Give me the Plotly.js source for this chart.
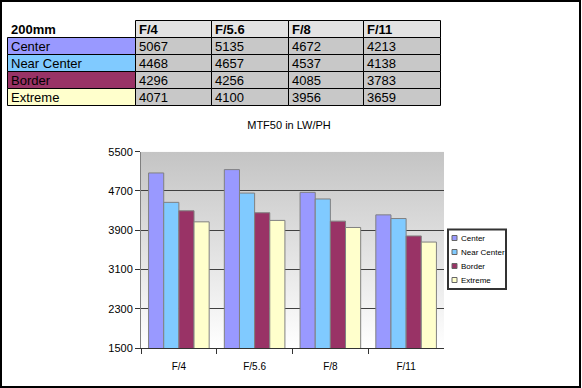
<!DOCTYPE html>
<html><head><meta charset="utf-8">
<script src="https://cdn.plot.ly/plotly-3.0.1.min.js"></script>
<style>
html,body{margin:0;padding:0;background:#fff;}
#wrap{position:relative;width:582px;height:388px;}
#chart{position:absolute;left:0;top:0;width:582px;height:388px;}
#frame{position:absolute;left:0;top:0;width:581px;height:388px;box-sizing:border-box;border:2px solid #000;pointer-events:none;}
</style></head>
<body>
<div id="wrap"><div id="chart"></div><div id="frame"></div></div>
<script>
// ---- data ----
var tableCorner = "200mm";
var apertures = ["F/4", "F/5.6", "F/8", "F/11"];
var zones = ["Center", "Near Center", "Border", "Extreme"];
var centerVals = [5067, 5135, 4672, 4213];
var nearCenterVals = [4468, 4657, 4537, 4138];
var borderVals = [4296, 4256, 4085, 3783];
var extremeVals = [4071, 4100, 3956, 3659];
var yTicks = [1500, 2300, 3100, 3900, 4700, 5500];
var chartTitle = "MTF50 in LW/PH";

// ---- styles / layout ----
var zoneColors = ["#9999ff", "#80caff", "#993366", "#ffffcc"];
var FONT = "Liberation Sans, Arial, sans-serif";
var W = 582, H = 388;
var colEdges = [7.5, 135.5, 211.5, 288.5, 363.5, 440.5];   // table column edges (px)
var rowTop = 20.5, rowH = 17;                               // table rows (px)

var series = [centerVals, nearCenterVals, borderVals, extremeVals];
function px(x) { return x / W; }
function py(y) { return 1 - y / H; }

var traces = series.map(function (vals, i) {
  return {
    type: "bar", name: zones[i], x: apertures, y: vals,
    marker: {color: zoneColors[i], line: {color: "#808080", width: 1}},
    showlegend: false
  };
});

// ---- table (shapes + annotations built from the data arrays) ----
var shapes = [], annotations = [];
var headerRow = [tableCorner].concat(apertures);
var nRows = zones.length + 1;
for (var r = 0; r < nRows; r++) {
  for (var c = 0; c < headerRow.length; c++) {
    var text, fill, lineW = 1, bold = false;
    if (r === 0) {
      text = headerRow[c]; bold = true;
      fill = c === 0 ? "#ffffff" : "#e3e3e3";
      if (c === 0) lineW = 0;
    } else {
      text = c === 0 ? zones[r - 1] : String(series[r - 1][c - 1]);
      fill = c === 0 ? zoneColors[r - 1] : "#c8c8c8";
    }
    var y0 = rowTop + r * rowH, y1 = y0 + rowH;
    shapes.push({
      type: "rect", xref: "paper", yref: "paper", layer: "above",
      x0: px(colEdges[c]), x1: px(colEdges[c + 1]), y0: py(y0), y1: py(y1),
      fillcolor: fill, line: {color: "#000", width: lineW}
    });
    annotations.push({
      xref: "paper", yref: "paper", showarrow: false,
      x: px(colEdges[c] + 1), xanchor: "left",
      y: py((y0 + y1) / 2 + 0.5), yanchor: "middle",
      text: bold ? "<b>" + text + "</b>" : text,
      font: {family: FONT, size: 13, color: "#000"}
    });
  }
}

// ---- legend (box, swatches, labels from zones) ----
var lg = {x0: 448, x1: 506, y0: 229.5, y1: 289, first: 238, step: 14};
shapes.push({
  type: "rect", xref: "paper", yref: "paper", layer: "above",
  x0: px(lg.x0), x1: px(lg.x1), y0: py(lg.y0), y1: py(lg.y1),
  fillcolor: "#ffffff", line: {color: "#333", width: 2}
});
zones.forEach(function (z, i) {
  var cy = lg.first + i * lg.step;
  shapes.push({
    type: "rect", xref: "paper", yref: "paper", layer: "above",
    x0: px(452), x1: px(457), y0: py(cy - 2.5), y1: py(cy + 2.5),
    fillcolor: zoneColors[i], line: {color: "#666", width: 1}
  });
  annotations.push({
    xref: "paper", yref: "paper", showarrow: false,
    x: px(459), xanchor: "left", y: py(cy), yanchor: "middle",
    text: z, font: {family: FONT, size: 8, color: "#000"}
  });
});

var xd = [141 / W, 444 / W];
var yd = [(H - 348) / H, (H - 151.7) / H];

var gradSvg = '<svg xmlns="http://www.w3.org/2000/svg" width="10" height="100" preserveAspectRatio="none">' +
  '<defs><linearGradient id="g" x1="0" y1="0" x2="0" y2="1">' +
  '<stop offset="0" stop-color="#c4c4c4"/><stop offset="1" stop-color="#ffffff"/>' +
  '</linearGradient></defs><rect width="10" height="100" fill="url(#g)"/></svg>';

var layout = {
  width: W, height: H,
  margin: {l: 0, r: 0, t: 0, b: 0, pad: 0},
  paper_bgcolor: "#ffffff",
  plot_bgcolor: "rgba(0,0,0,0)",
  font: {family: FONT, color: "#000"},
  title: {
    text: chartTitle, font: {family: FONT, size: 11, color: "#000"},
    x: 289 / W, xanchor: "center", xref: "container",
    y: (H - 125) / H, yanchor: "middle", yref: "container"
  },
  barmode: "group", bargap: 0.2, bargroupgap: 0,
  xaxis: {
    domain: xd, type: "category",
    showline: true, linecolor: "#333", linewidth: 1,
    ticks: "outside", tickson: "boundaries", ticklen: 5, tickcolor: "#333", tickwidth: 1,
    tickfont: {family: FONT, size: 10, color: "#000"},
    showgrid: false, ticklabelstandoff: 9, fixedrange: true
  },
  yaxis: {
    domain: yd, range: [1500, 5500], tickvals: yTicks, ticktext: yTicks.map(String),
    showline: true, linecolor: "#808080", linewidth: 1,
    ticks: "outside", ticklen: 5, tickcolor: "#333", tickwidth: 1,
    showgrid: true, gridcolor: "#404040", gridwidth: 1,
    tickfont: {family: FONT, size: 11, color: "#000"},
    zeroline: false, fixedrange: true
  },
  showlegend: false,
  shapes: shapes,
  annotations: annotations,
  images: [{
    source: "data:image/svg+xml;charset=utf-8," + encodeURIComponent(gradSvg),
    xref: "paper", yref: "paper", x: xd[0], y: yd[1], sizex: xd[1] - xd[0], sizey: yd[1] - yd[0],
    xanchor: "left", yanchor: "top", sizing: "stretch", layer: "below"
  }]
};

Plotly.newPlot("chart", traces, layout, {displayModeBar: false, staticPlot: true});
</script>
</body></html>
